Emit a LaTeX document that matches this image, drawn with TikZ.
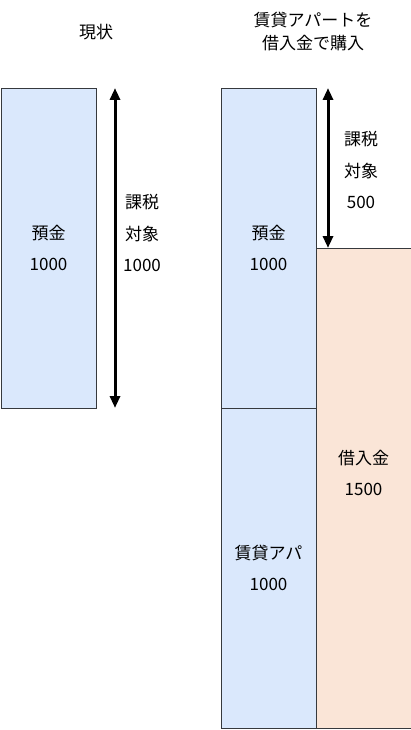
\documentclass[tikz,border=0pt]{standalone}
\usepackage{fontspec}
\setmainfont{Noto Sans CJK JP}
\usetikzlibrary{arrows.meta}
\definecolor{bluefill}{HTML}{DAE8FC}
\definecolor{orangefill}{HTML}{FAE5D7}
\definecolor{edge}{HTML}{36393D}
\tikzset{
  block/.style={draw=edge, line width=0.8pt, minimum width=95pt, inner sep=0pt, outer sep=0pt,
    align=center, font=\fontsize{17}{31}\selectfont},
  blueblock/.style={block, fill=bluefill},
  orangeblock/.style={block, fill=orangefill},
  dimarrow/.style={line width=3pt, {Triangle[width=10pt,length=12pt]}-{Triangle[width=10pt,length=12pt]}},
  lbl/.style={align=center, inner sep=0pt, font=\fontsize{17}{31.5}\selectfont},
  ttl/.style={align=center, inner sep=0pt, font=\fontsize{17}{23}\selectfont}
}
\begin{document}
\begin{tikzpicture}[x=1pt,y=-1pt]
\useasboundingbox (0,0) rectangle (411,730);
% left column
\node[ttl] (t1) at (96,32) {現状};
\node[blueblock, minimum height=320pt] (dep1) at (48.5,248) {預金\\1000};
\coordinate (a1top) at (115,88);
\coordinate (a1bot) at (115,408);
\draw[dimarrow] (a1top) -- (a1bot);
\node[lbl] (l1) at (142,233) {課税\\対象\\1000};
% right column
\node[ttl] (t2) at (313,31.5) {賃貸アパートを\\借入金で購入};
\node[blueblock, minimum height=320pt] (dep2) at (268.5,248) {預金\\1000};
\node[blueblock, minimum height=320pt] (apt) at (268.5,568) {賃貸アパ\\1000};
\node[orangeblock, minimum height=480pt] (loan) at (363.5,488) {借入金\\1500\\\mbox{}};
\coordinate (a2top) at (328,88);
\coordinate (a2bot) at (328,248);
\draw[dimarrow] (a2top) -- (a2bot);
\node[lbl] (l2) at (361,170) {課税\\対象\\500};
\end{tikzpicture}
\end{document}
